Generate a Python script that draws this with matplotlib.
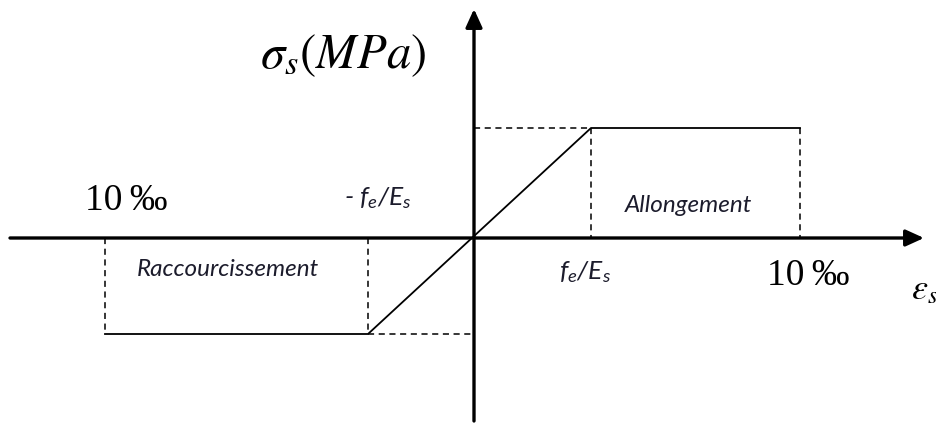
import matplotlib.pyplot as plt

plt.rcParams['mathtext.fontset'] = 'custom'
plt.rcParams['mathtext.rm'] = 'Lato:style=italic'
plt.rcParams['mathtext.it'] = 'Lato:style=italic'

# key strains (drawing units) and stresses of the bilinear steel law
eps_lim_neg = -3.69   # -10 permille
eps_el_neg = -1.06    # -fe/Es
eps_el_pos = 1.17     # fe/Es
eps_lim_pos = 3.26    # 10 permille
sig_pos = 1.10
sig_neg = -0.96

fig = plt.figure(figsize=(9.36, 4.27), dpi=100)
ax = fig.add_axes([0, 0, 1, 1])
ax.set_xlim(-4.74, 4.62)
ax.set_ylim(-1.88, 2.39)
ax.axis('off')

# axes with arrows
ax.annotate('', xy=(4.50, 0), xytext=(-4.64, 0),
            arrowprops=dict(arrowstyle='-|>,head_length=1.1,head_width=0.5',
                            lw=2.4, color='black', shrinkA=0, shrinkB=0))
ax.annotate('', xy=(0, 2.29), xytext=(0, -1.83),
            arrowprops=dict(arrowstyle='-|>,head_length=1.1,head_width=0.5',
                            lw=2.4, color='black', shrinkA=0, shrinkB=0))

lw = 1.3
# solid law
ax.plot([eps_lim_neg, eps_el_neg, eps_el_pos, eps_lim_pos],
        [sig_neg, sig_neg, sig_pos, sig_pos], color='black', lw=lw)

# dashed guides
dash = dict(color='black', lw=1.1, ls=(0, (4, 3)))
ax.plot([eps_lim_pos, eps_lim_pos], [sig_pos, 0], **dash)
ax.plot([0, eps_el_pos], [sig_pos, sig_pos], **dash)
ax.plot([eps_el_pos, eps_el_pos], [sig_pos, 0], **dash)
ax.plot([eps_lim_neg, eps_lim_neg], [0, sig_neg], **dash)
ax.plot([eps_el_neg, 0], [sig_neg, sig_neg], **dash)
ax.plot([eps_el_neg, eps_el_neg], [0, sig_neg], **dash)

# labels
ax.text(-1.31, 1.84, r'$\sigma_s(MPa)$', fontsize=35, ha='center', va='center',
        math_fontfamily='stix')
ax.text(-3.48, 0.38, '10\u2009‰', family='Liberation Serif', fontsize=27,
        ha='center', va='center')
ax.text(3.34, -0.37, '10\u2009‰', family='Liberation Serif', fontsize=27,
        ha='center', va='center')
ax.text(4.51, -0.50, r'$\varepsilon_s$', fontsize=26, ha='center', va='center',
        math_fontfamily='stix')

sans = dict(family='Lato', style='italic', color='#1c1c2c')
ax.text(-0.96, 0.41, r'- $f_e/E_s$', fontsize=19, ha='center', va='center', **sans)
ax.text(1.11, -0.33, r'$f_e/E_s$', fontsize=19, ha='center', va='center', **sans)
ax.text(2.14, 0.33, 'Allongement', fontsize=17.5, ha='center', va='center', **sans)
ax.text(-2.46, -0.30, 'Raccourcissement', fontsize=17.5, ha='center', va='center', **sans)

fig.savefig('out.png', dpi=100)
